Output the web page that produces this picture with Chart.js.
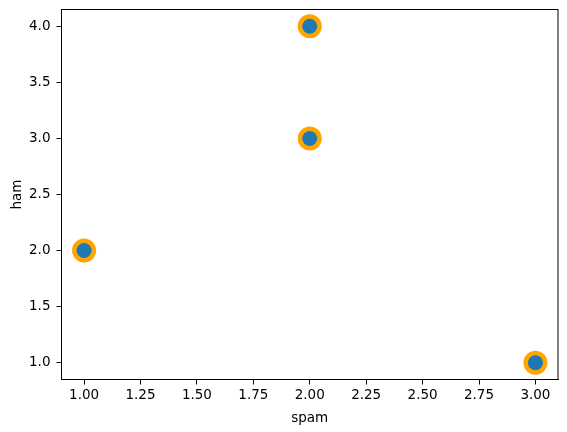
<!DOCTYPE html>
<html>
<head>
<meta charset="utf-8">
<script src="https://cdn.jsdelivr.net/npm/chart.js@4.4.0/dist/chart.umd.min.js"></script>
<style>
  html, body { margin: 0; padding: 0; background: #fff; }
  #wrap { width: 567px; height: 432px; }
</style>
</head>
<body>
<div id="wrap"><canvas id="chart"></canvas></div>
<script>
// data
const spam = [1, 2, 2, 3];
const ham = [2, 4, 3, 1];
const xTicks = [1.0, 1.25, 1.5, 1.75, 2.0, 2.25, 2.5, 2.75, 3.0];
const yTicks = [1.0, 1.5, 2.0, 2.5, 3.0, 3.5, 4.0];

const points = spam.map((x, i) => ({ x: x, y: ham[i] }));

// matplotlib style full frame round the plot area
const frame = {
  id: 'frame',
  afterDraw(chart) {
    const a = chart.chartArea, ctx = chart.ctx;
    ctx.save();
    ctx.strokeStyle = '#000';
    ctx.lineWidth = 1;
    ctx.strokeRect(a.left, a.top, a.right - a.left, a.bottom - a.top);
    ctx.restore();
  }
};

const font = { family: 'DejaVu Sans', size: 13.5 };

new Chart(document.getElementById('chart'), {
  type: 'scatter',
  data: {
    datasets: [
      {
        label: 'inner',
        data: points,
        backgroundColor: '#1f77b4',
        borderWidth: 0,
        pointRadius: 7.5,
        pointHoverRadius: 7.5
      },
      {
        label: 'outer',
        data: points,
        backgroundColor: '#ffa500',
        borderWidth: 0,
        pointRadius: 12,
        pointHoverRadius: 12
      }
    ]
  },
  options: {
    responsive: true,
    maintainAspectRatio: false,
    animation: false,
    layout: { autoPadding: false, padding: { top: 9.5, right: 9, left: 0, bottom: 0 } },
    plugins: { legend: { display: false }, tooltip: { enabled: false } },
    scales: {
      x: {
        type: 'linear',
        min: 0.9,
        max: 3.1,
        afterBuildTicks: s => { s.ticks = xTicks.map(v => ({ value: v })); },
        afterFit: s => { s.height = 52.5; s.paddingLeft = 0; s.paddingRight = 0; },
        ticks: {
          color: '#000', font: font, padding: 3, maxRotation: 0,
          callback: v => Number(v).toFixed(2)
        },
        grid: { drawOnChartArea: false, drawTicks: true, tickLength: 5, color: '#000' },
        border: { display: true, color: '#000' },
        title: { display: true, text: 'spam', color: '#000', font: font, padding: { top: 2, bottom: 5 } }
      },
      y: {
        type: 'linear',
        min: 0.85,
        max: 4.15,
        afterBuildTicks: s => { s.ticks = yTicks.map(v => ({ value: v })); },
        afterFit: s => { s.width = 61.5; s.paddingTop = 0; s.paddingBottom = 0; },
        ticks: {
          color: '#000', font: font, padding: 6,
          callback: v => Number(v).toFixed(1)
        },
        grid: { drawOnChartArea: false, drawTicks: true, tickLength: 5, color: '#000' },
        border: { display: true, color: '#000' },
        title: { display: true, text: 'ham', color: '#000', font: font, padding: { top: 9, bottom: 2 } }
      }
    }
  },
  plugins: [frame]
});
</script>
</body>
</html>
